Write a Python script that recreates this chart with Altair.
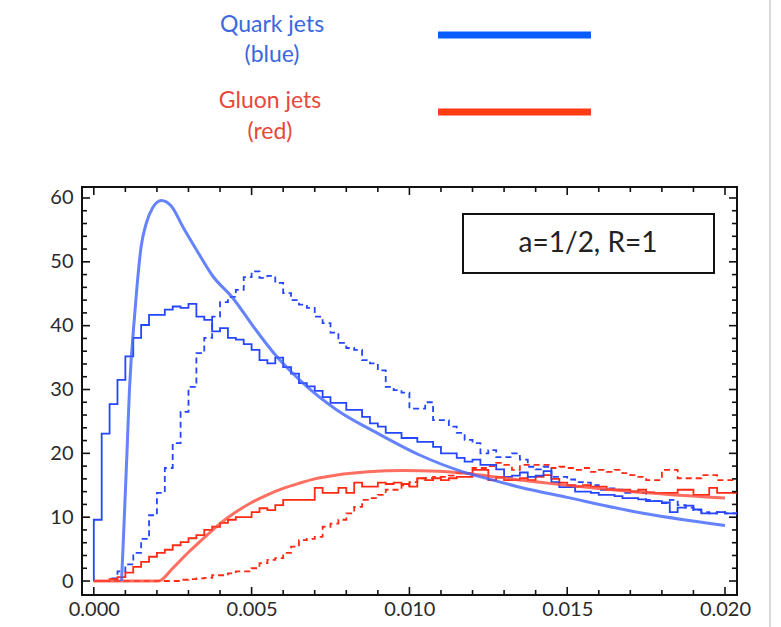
import altair as alt
import pandas as pd

# ---------------- data ----------------
BIN = 0.00025  # histogram bin width

quark_hist = [9.6, 23.1, 27.7, 31.5, 35.2, 38.1, 40.1, 41.7, 41.7, 42.5,
              43.0, 42.8, 43.4, 41.4, 40.9, 39.1, 39.6, 38.1, 37.8, 37.1,
              36.2, 34.6, 34.1, 35.0, 33.5, 32.5, 31.0, 30.5, 29.8, 28.8,
              27.9, 27.9, 26.8, 26.8, 25.7, 24.7, 24.2, 23.2, 23.2, 22.4,
              22.4, 21.8, 21.8, 21.0, 20.0, 20.0, 19.3, 18.7, 19.0, 18.2,
              18.2, 17.5, 16.3, 16.5, 17.0, 16.3, 16.5, 17.2, 15.5, 14.7,
              14.7, 14.0, 14.0, 13.8, 13.5, 13.5, 13.3, 13.0, 13.0, 12.8,
              12.5, 12.5, 12.3, 10.8, 11.5, 11.8, 11.2, 10.6, 10.6, 10.8,
              10.6, 10.6]

quark_dash = [0.0, 0.0, 0.4, 1.5, 2.6, 4.4, 6.6, 10.3, 13.8, 17.7,
              21.6, 26.5, 30.4, 35.7, 38.1, 41.4, 43.7, 44.5, 45.6, 47.6,
              48.5, 47.5, 47.8, 46.7, 45.1, 44.0, 43.3, 42.8, 41.4, 40.4,
              38.9, 37.3, 36.5, 36.2, 34.6, 34.1, 33.0, 30.4, 29.9, 29.5,
              27.0, 27.0, 28.0, 25.2, 25.2, 24.2, 23.2, 22.1, 21.6, 20.0,
              20.5, 19.4, 19.4, 20.0, 19.0, 17.9, 17.5, 17.9, 16.3, 16.3,
              15.9, 15.5, 15.4, 15.0, 14.3, 14.5, 14.3, 13.8, 14.0, 13.8,
              12.7, 12.5, 12.2, 12.7, 11.9, 11.5, 11.1, 10.8, 10.6, 10.8,
              10.6, 10.6]

gluon_hist = [0.0, 0.0, 0.3, 0.6, 1.3, 2.2, 3.0, 3.8, 4.4, 4.9,
              5.6, 6.1, 6.7, 7.2, 8.0, 8.5, 9.1, 9.6, 10.0, 10.0,
              10.8, 11.4, 11.1, 11.9, 12.7, 12.7, 12.7, 12.7, 14.6, 13.8,
              13.8, 14.6, 13.8, 15.4, 14.8, 14.8, 15.4, 15.2, 15.4, 15.2,
              14.8, 16.1, 15.8, 16.1, 15.8, 16.1, 16.3, 16.3, 17.4, 17.4,
              15.8, 16.3, 15.8, 15.8, 16.1, 15.8, 16.3, 16.6, 16.0, 15.4,
              15.0, 14.8, 15.0, 14.8, 14.8, 14.3, 14.3, 14.3, 14.0, 14.3,
              13.9, 13.8, 13.8, 13.8, 14.3, 14.3, 13.5, 13.5, 14.6, 13.8,
              13.8, 13.8]

gluon_dash = [0.0, 0.0, 0.0, 0.0, 0.0, 0.0, 0.0, 0.0, 0.0, 0.0,
              0.0, 0.2, 0.3, 0.4, 0.5, 0.9, 0.9, 1.2, 1.5, 1.5,
              2.0, 2.8, 3.3, 3.6, 4.4, 5.4, 6.4, 6.6, 6.9, 8.5,
              9.0, 9.6, 10.6, 11.6, 12.7, 13.0, 13.5, 14.3, 14.3, 15.0,
              15.5, 16.1, 16.1, 16.3, 16.3, 16.5, 16.9, 16.9, 17.7, 17.7,
              18.0, 18.5, 18.2, 17.4, 18.2, 18.2, 18.2, 18.2, 17.7, 17.9,
              17.7, 17.4, 17.7, 17.1, 17.4, 17.1, 17.4, 16.9, 16.6, 16.3,
              15.8, 15.8, 17.4, 17.4, 16.1, 16.1, 16.1, 16.6, 16.6, 15.8,
              15.8, 15.8]

quark_curve_x = [0.00088, 0.00095, 0.00105, 0.00113, 0.0013, 0.0015, 0.00166,
                 0.00187, 0.00214, 0.00246, 0.00282, 0.00325, 0.00378, 0.00441,
                 0.00505, 0.00579, 0.00663, 0.0077, 0.00897, 0.01034, 0.0117,
                 0.0125, 0.0135, 0.015, 0.0171, 0.0200]
quark_curve_y = [0.0, 8.0, 20.0, 30.0, 42.0, 52.4, 56.0, 58.5, 59.6, 58.7,
                 55.5, 51.9, 47.7, 44.3, 39.9, 35.2, 31.0, 26.8, 23.2, 19.7,
                 17.1, 16.0, 14.7, 13.1, 10.9, 8.7]

gluon_curve_x = [0.0, 0.00205, 0.0025, 0.003, 0.0035, 0.004, 0.0045, 0.005,
                 0.0055, 0.006, 0.0065, 0.007, 0.0077, 0.0087, 0.0098, 0.0109,
                 0.0119, 0.0129, 0.015, 0.0171, 0.0200]
gluon_curve_y = [0.0, 0.0, 2.0, 4.5, 6.8, 9.0, 10.8, 12.3, 13.5, 14.5, 15.3,
                 16.0, 16.6, 17.1, 17.3, 17.2, 16.8, 16.2, 15.0, 14.0, 13.0]

x_major = [0.0, 0.005, 0.010, 0.015, 0.020]
x_minor = [0.001, 0.002, 0.003, 0.004, 0.006, 0.007, 0.008, 0.009,
           0.011, 0.012, 0.013, 0.014, 0.016, 0.017, 0.018, 0.019]
y_major = [0, 10, 20, 30, 40, 50, 60]
y_minor = [2, 4, 6, 8, 12, 14, 16, 18, 22, 24, 26, 28, 32, 34, 36, 38,
           42, 44, 46, 48, 52, 54, 56, 58]

legend_labels = ["Quark jets", "(blue)", "Gluon jets", "(red)"]
box_label = "a=1/2, R=1"

# ---------------- layout ----------------
W, H = 655, 408
FONT = "Lato"
BLUE = "#2545ff"
BLUE_S = "#3f63ff"
RED = "#ff2a14"
RED_S = "#ff4a3a"

xscale = alt.Scale(domain=[-0.000374, 0.02038], nice=False, zero=False)
yscale = alt.Scale(domain=[-2.19, 61.72], nice=False, zero=False)
xaxis = alt.Axis(values=x_major, format=".3f", ticks=False, domain=False, grid=False,
                 labelFont=FONT, labelFontSize=20, labelColor="#2a2a2a", labelPadding=4,
                 labelFlush=False, labelOverlap=False, title=None)
yaxis = alt.Axis(values=y_major, format="d", ticks=False, domain=False, grid=False,
                 labelFont=FONT, labelFontSize=20, labelColor="#2a2a2a", labelPadding=9,
                 labelOverlap=False, title=None)


def X(f):
    return alt.X(f, type="quantitative", scale=xscale, axis=xaxis, title=None)


def Y(f):
    return alt.Y(f, type="quantitative", scale=yscale, axis=yaxis, title=None)


def hist_df(vals, lead_zero=False):
    xs = [i * BIN for i in range(len(vals) + 1)]
    ys = list(vals) + [vals[-1]]
    if lead_zero:
        xs = [0.0] + xs
        ys = [0.0] + ys
    return pd.DataFrame({"x": xs, "y": ys})


def hist_layer(vals, color, dashed=False, lead_zero=False):
    kw = dict(interpolate="step-after", clip=True, color=color, strokeWidth=1.8)
    if dashed:
        kw["strokeDash"] = [6, 4]
    return alt.Chart(hist_df(vals, lead_zero)).mark_line(**kw).encode(x=X("x"), y=Y("y"))


def curve_layer(xs, ys, color):
    return alt.Chart(pd.DataFrame({"x": xs, "y": ys})).mark_line(
        interpolate="monotone", clip=True, color=color, strokeWidth=3, opacity=0.8
    ).encode(x=X("x"), y=Y("y"))


layers = [
    hist_layer(gluon_dash, RED, dashed=True),
    hist_layer(quark_dash, BLUE, dashed=True),
    hist_layer(gluon_hist, RED),
    hist_layer(quark_hist, BLUE, lead_zero=True),
    curve_layer(gluon_curve_x, gluon_curve_y, RED_S),
    curve_layer(quark_curve_x, quark_curve_y, BLUE_S),
]

# tick marks (inward, on all four sides)
tick_color = "#111"
for vals, ln in [(x_major, 8), (x_minor, 5)]:
    d = pd.DataFrame({"v": vals})
    layers.append(alt.Chart(d).mark_rule(color=tick_color, strokeWidth=1.6).encode(
        x=X("v"), y=alt.value(H), y2=alt.value(H - ln)))
    layers.append(alt.Chart(d).mark_rule(color=tick_color, strokeWidth=1.6).encode(
        x=X("v"), y=alt.value(0), y2=alt.value(ln)))
for vals, ln in [(y_major, 8), (y_minor, 5)]:
    d = pd.DataFrame({"v": vals})
    layers.append(alt.Chart(d).mark_rule(color=tick_color, strokeWidth=1.6).encode(
        y=Y("v"), x=alt.value(0), x2=alt.value(ln)))
    layers.append(alt.Chart(d).mark_rule(color=tick_color, strokeWidth=1.6).encode(
        y=Y("v"), x=alt.value(W), x2=alt.value(W - ln)))

# annotation box
box_df = pd.DataFrame({"label": [box_label]})
layers.append(alt.Chart(box_df).mark_rect(fill="white", stroke="#111", strokeWidth=2).encode(
    x=alt.value(381), x2=alt.value(632), y=alt.value(27), y2=alt.value(86)))
layers.append(alt.Chart(box_df).mark_text(font=FONT, fontSize=28, color="#222",
                                          align="center", baseline="middle").encode(
    x=alt.value(506), y=alt.value(57), text="label:N"))

# legend above the plot
leg_pos = [(190, -162, "#3a68dc"), (190, -132, "#3a68dc"),
           (188, -86, "#e8483a"), (188, -55, "#e8483a")]
for lab, (px, py, col) in zip(legend_labels, leg_pos):
    layers.append(alt.Chart(pd.DataFrame({"label": [lab]})).mark_text(
        font=FONT, fontSize=23, color=col, align="center", baseline="middle").encode(
        x=alt.value(px), y=alt.value(py), text="label:N"))

leg_line_df = pd.DataFrame({"label": ["line"]})
layers.append(alt.Chart(leg_line_df).mark_rule(color="#0a5cff", strokeWidth=7).encode(
    x=alt.value(356), x2=alt.value(509), y=alt.value(-152)))
layers.append(alt.Chart(leg_line_df).mark_rule(color="#ff3c14", strokeWidth=7).encode(
    x=alt.value(356), x2=alt.value(509), y=alt.value(-75)))

# thin grey border at right
layers.append(alt.Chart(leg_line_df).mark_rule(color="#cccccc", strokeWidth=1.5).encode(
    x=alt.value(688), y=alt.value(-187), y2=alt.value(440)))

chart = alt.layer(*layers).properties(
    width=W, height=H,
    autosize=alt.AutoSizeParams(type="none"),
    padding={"left": 82, "top": 187, "right": 44, "bottom": 32},
    background="white",
).configure_view(stroke="#111", strokeWidth=2)

chart.save("out.html", embed_options={"renderer": "svg", "actions": False})
